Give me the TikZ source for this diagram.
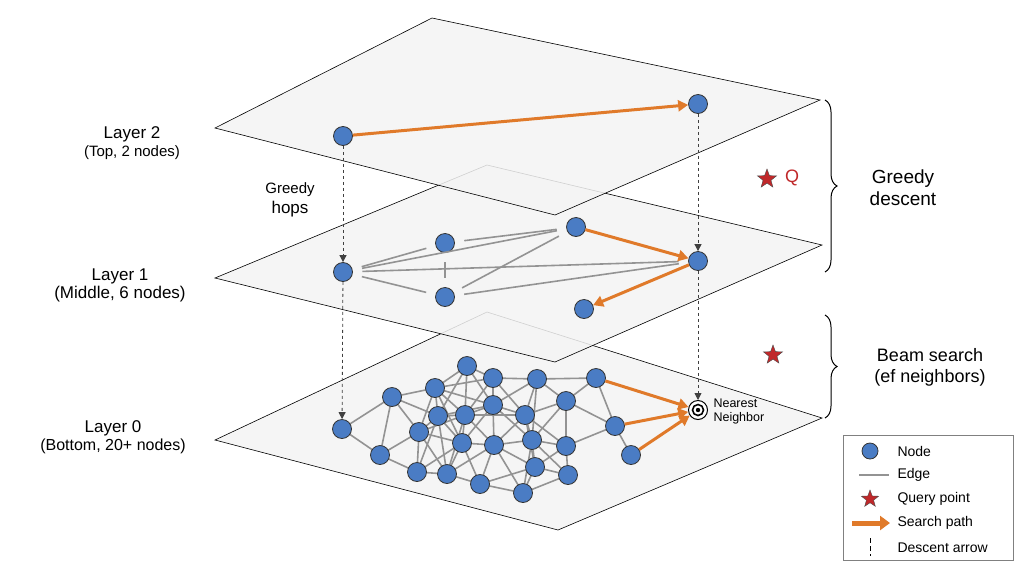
\documentclass[tikz,border=0pt]{standalone}
\usepackage{fontspec}
\setmainfont{Liberation Sans}
\usetikzlibrary{arrows.meta,decorations.pathreplacing,shapes.geometric}
\definecolor{nb}{HTML}{4A7CC4}
\definecolor{orng}{HTML}{E07A2A}
\definecolor{qred}{HTML}{C0282A}
\begin{document}
\begin{tikzpicture}[x=1pt,y=-1pt,
  plane/.style={draw=black,line width=0.6pt,fill=gray!9,fill opacity=0.85},
  gn/.style={circle,fill=nb,draw=black!80,line width=0.8pt,minimum size=19pt,inner sep=0pt},
  edge/.style={draw=gray!85,line width=1.6pt},
  sp/.style={draw=orng,line width=3pt,-{Triangle[length=10pt,width=11pt]}},
  desc/.style={draw=black!75,dashed,line width=0.8pt,-{Triangle[length=7pt,width=7pt]}},
  lbl/.style={font=\fontsize{17}{20}\selectfont,align=center},
  qstar/.style={star,star points=5,star point ratio=2.4,fill=qred,draw=black!70,line width=0.4pt,minimum size=20pt,inner sep=0pt}]
\useasboundingbox (0,0) rectangle (1024,571);
\fill[white] (0,0) rectangle (1024,571);
% Layer 0
\draw[plane] (487,312) -- (822,418) -- (558,530) -- (215,440) -- cycle;
\foreach \i/\x/\y in {1/342/429,2/392/397,3/435/388,4/467/366,5/493/378,6/537/379,7/596/378,8/566/401,9/438/416,10/465/415,11/493/405,12/525/415,13/419/432,14/380/455,15/462/443,16/494/445,17/532/440,18/566/446,19/615/426,20/631/455,21/417/472,22/447/474,23/480/484,24/535/467,25/568/475,26/523/493}
  \coordinate (c\i) at (\x,\y);
\foreach \i/\x/\y in {1/342/429,2/392/397,3/435/388,4/467/366,5/493/378,6/537/379,7/596/378,8/566/401,9/438/416,10/465/415,11/493/405,12/525/415,13/419/432,14/380/455,15/462/443,16/494/445,17/532/440,18/566/446,19/615/426,20/631/455,21/417/472,22/447/474,23/480/484,24/535/467,25/568/475,26/523/493}{
  \foreach \j/\u/\v in {1/342/429,2/392/397,3/435/388,4/467/366,5/493/378,6/537/379,7/596/378,8/566/401,9/438/416,10/465/415,11/493/405,12/525/415,13/419/432,14/380/455,15/462/443,16/494/445,17/532/440,18/566/446,19/615/426,20/631/455,21/417/472,22/447/474,23/480/484,24/535/467,25/568/475,26/523/493}{
    \pgfmathsetmacro\dd{veclen(\x-\u,\y-\v)}
    \ifnum\i<\j \pgfmathparse{\dd<62?1:0}\ifnum\pgfmathresult=1 \draw[edge] (c\i) -- (c\j);\fi\fi
  }}
\foreach \i in {1,...,26} \node[gn] (n\i) at (c\i) {};
\node[circle,draw=black,line width=1pt,minimum size=19pt,fill=white] (nn) at (698,410) {};
\draw[line width=1.6pt] (nn) circle (5.5pt);
\fill (nn) circle (2.2pt);
\node[font=\fontsize{12.5}{14}\selectfont,align=left,anchor=west] at (710,411) {Nearest\\Neighbor};
\draw[sp] (n7) -- (nn); \draw[sp] (n19) -- (nn); \draw[sp] (n20) -- (nn);
% Layer 1
\draw[plane] (487,165) -- (822,245) -- (555,362) -- (215,278) -- cycle;
\node[gn] (a1) at (343,272) {}; \node[gn] (a2) at (445,243) {}; \node[gn] (a3) at (576,227) {};
\node[gn] (a4) at (698,261) {}; \node[gn] (a5) at (445,297) {}; \node[gn] (a6) at (584,309) {};
\foreach \a/\b in {a1/a2,a1/a3,a1/a4,a1/a5,a2/a5,a2/a3,a5/a3,a5/a4}
  \draw[edge,shorten <=9.5pt,shorten >=9.5pt] (\a) -- (\b);
\draw[sp] (a3) -- (a4); \draw[sp] (a4) -- (a6);
\draw[desc] (a1) -- (n1); \draw[desc] (a4) -- (nn);
% Layer 2
\draw[plane] (432,18) -- (820,100) -- (555,215) -- (215,128) -- cycle;
\node[gn] (b1) at (343,136) {}; \node[gn] (b2) at (698,104) {};
\draw[sp] (b1) -- (b2);
\draw[desc] (b1) -- (a1); \draw[desc] (b2) -- (a4);
% labels
\node[lbl] at (290,200) {\fontsize{15}{18}\selectfont Greedy\\hops};
\node[lbl] at (132,143) {Layer 2\\[-2pt]{\fontsize{15}{18}\selectfont (Top, 2 nodes)}};
\node[lbl] at (120,285) {Layer 1\\[-2pt](Middle, 6 nodes)};
\node[lbl] at (113,437) {Layer 0\\[-2pt]{\fontsize{16}{18}\selectfont (Bottom, 20+ nodes)}};
\node[qstar] (q1) at (767,179) {};
\node[font=\fontsize{18}{20}\selectfont,text=qred] (qt) at (792,178) {Q};
\node[qstar] (q2) at (773,355) {};
\draw[decorate,decoration={brace,amplitude=12pt},line width=1pt] (825,100) -- (825,272);
\draw[decorate,decoration={brace,amplitude=12pt},line width=1pt] (825,315) -- (825,418);
\node[lbl,font=\fontsize{19}{22}\selectfont] at (903,188) {Greedy\\descent};
\node[lbl,font=\fontsize{18}{21}\selectfont] at (930,367) {Beam search\\(ef neighbors)};
% legend
\draw[gray,line width=0.8pt,fill=white] (843,435) rectangle (1013,560);
\node[gn,minimum size=16pt] (l1) at (870,451) {};
\coordinate (e1) at (859,475); \coordinate (e2) at (889,475);
\draw[edge] (e1) -- (e2);
\node[qstar,minimum size=18pt] (l3) at (870,499) {};
\coordinate (s1) at (852,523); \coordinate (s2) at (890,523);
\draw[draw=orng,line width=5pt,-{Triangle[length=10pt,width=14pt]}] (s1) -- (s2);
\coordinate (d1) at (870,538); \coordinate (d2) at (870,556);
\draw[black,line width=1pt,dash pattern=on 5pt off 3pt] (d1) -- (d2);
\begin{scope}[every node/.style={anchor=west,font=\fontsize{14}{16}\selectfont}]
\node at (894,451) {Node};
\node at (894,475) {Edge};
\node at (894,499) {Query point};
\node at (894,523) {Search path};
\node at (894,548) {Descent arrow};
\end{scope}
\end{tikzpicture}
\end{document}
